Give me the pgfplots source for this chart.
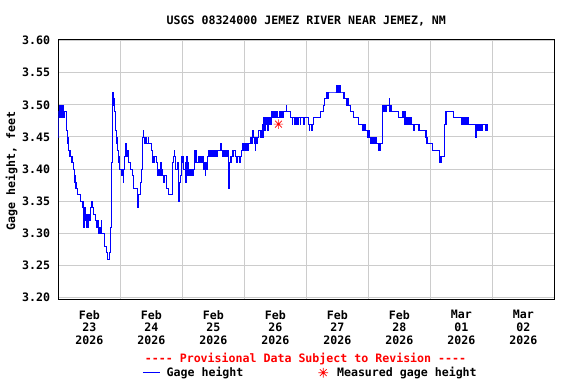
\documentclass[border=0pt]{standalone}
\usepackage{fontspec}
\setmainfont{DejaVu Sans Mono}
\usepackage{pgfplots}
\pgfplotsset{compat=1.18}
\usepackage{pgfplotstable}
\definecolor{gridgray}{RGB}{204,204,204}
\pgfdeclareplotmark{ast8}{%
  \pgfpathmoveto{\pgfqpoint{-\pgfplotmarksize}{0pt}}\pgfpathlineto{\pgfqpoint{\pgfplotmarksize}{0pt}}%
  \pgfpathmoveto{\pgfqpoint{0pt}{-\pgfplotmarksize}}\pgfpathlineto{\pgfqpoint{0pt}{\pgfplotmarksize}}%
  \pgfpathmoveto{\pgfqpoint{-0.707\pgfplotmarksize}{-0.707\pgfplotmarksize}}\pgfpathlineto{\pgfqpoint{0.707\pgfplotmarksize}{0.707\pgfplotmarksize}}%
  \pgfpathmoveto{\pgfqpoint{-0.707\pgfplotmarksize}{0.707\pgfplotmarksize}}\pgfpathlineto{\pgfqpoint{0.707\pgfplotmarksize}{-0.707\pgfplotmarksize}}%
  \pgfusepathqstroke}
\pgfplotstableread{
d v
-0.495 3.45
-0.492 3.49
-0.485 3.49
-0.480 3.50
-0.475 3.48
-0.468 3.49
-0.460 3.50
-0.452 3.49
-0.445 3.48
-0.438 3.49
-0.430 3.50
-0.422 3.48
-0.415 3.49
-0.405 3.48
-0.395 3.49
-0.385 3.49
-0.378 3.48
-0.370 3.48
-0.365 3.46
-0.360 3.45
-0.352 3.44
-0.345 3.45
-0.338 3.44
-0.330 3.43
-0.322 3.43
-0.315 3.42
-0.308 3.43
-0.300 3.42
-0.292 3.41
-0.285 3.42
-0.278 3.41
-0.270 3.41
-0.262 3.40
-0.255 3.40
-0.248 3.40
-0.242 3.39
-0.236 3.38
-0.230 3.39
-0.224 3.38
-0.218 3.37
-0.212 3.38
-0.205 3.37
-0.198 3.37
-0.190 3.36
-0.180 3.36
-0.170 3.36
-0.160 3.36
-0.150 3.35
-0.140 3.35
-0.130 3.35
-0.120 3.34
-0.110 3.35
-0.100 3.34
-0.092 3.31
-0.086 3.34
-0.080 3.33
-0.074 3.32
-0.068 3.34
-0.062 3.32
-0.056 3.33
-0.050 3.31
-0.044 3.32
-0.038 3.33
-0.030 3.31
-0.024 3.32
-0.018 3.31
-0.010 3.33
0.000 3.32
0.010 3.34
0.020 3.34
0.028 3.35
0.040 3.35
0.050 3.34
0.060 3.34
0.070 3.33
0.080 3.33
0.090 3.32
0.100 3.32
0.110 3.31
0.120 3.31
0.130 3.32
0.140 3.31
0.150 3.30
0.160 3.30
0.170 3.31
0.180 3.30
0.190 3.32
0.195 3.30
0.210 3.30
0.225 3.30
0.240 3.29
0.250 3.28
0.262 3.28
0.270 3.27
0.285 3.27
0.296 3.26
0.310 3.26
0.328 3.27
0.344 3.31
0.360 3.41
0.372 3.48
0.378 3.52
0.385 3.51
0.392 3.50
0.400 3.51
0.408 3.49
0.419 3.47
0.425 3.46
0.432 3.45
0.440 3.44
0.448 3.45
0.455 3.43
0.462 3.42
0.470 3.41
0.480 3.42
0.490 3.40
0.500 3.40
0.510 3.39
0.520 3.40
0.530 3.39
0.543 3.38
0.555 3.40
0.565 3.42
0.575 3.43
0.582 3.44
0.590 3.43
0.598 3.44
0.605 3.42
0.615 3.43
0.625 3.42
0.635 3.41
0.645 3.41
0.655 3.40
0.665 3.40
0.675 3.40
0.690 3.39
0.704 3.38
0.715 3.37
0.730 3.37
0.742 3.37
0.760 3.37
0.775 3.36
0.780 3.34
0.786 3.35
0.796 3.36
0.810 3.36
0.823 3.38
0.835 3.39
0.845 3.40
0.849 3.44
0.862 3.45
0.870 3.46
0.878 3.45
0.885 3.44
0.892 3.45
0.900 3.44
0.910 3.45
0.920 3.44
0.935 3.44
0.950 3.45
0.960 3.44
0.975 3.44
0.990 3.44
1.000 3.43
1.011 3.42
1.020 3.41
1.030 3.42
1.040 3.41
1.050 3.42
1.065 3.42
1.080 3.41
1.090 3.40
1.100 3.39
1.110 3.40
1.118 3.40
1.130 3.39
1.140 3.40
1.150 3.41
1.160 3.39
1.170 3.40
1.180 3.39
1.190 3.39
1.200 3.38
1.210 3.39
1.220 3.39
1.235 3.38
1.250 3.37
1.265 3.37
1.280 3.36
1.300 3.36
1.320 3.36
1.340 3.37
1.344 3.41
1.355 3.42
1.365 3.43
1.375 3.42
1.387 3.41
1.395 3.40
1.405 3.40
1.419 3.41
1.430 3.39
1.438 3.40
1.441 3.35
1.448 3.37
1.458 3.38
1.468 3.39
1.480 3.41
1.490 3.42
1.500 3.41
1.510 3.42
1.520 3.40
1.530 3.40
1.545 3.41
1.552 3.38
1.560 3.40
1.570 3.42
1.578 3.39
1.585 3.41
1.595 3.40
1.605 3.39
1.620 3.40
1.635 3.39
1.650 3.40
1.665 3.39
1.680 3.40
1.694 3.42
1.702 3.43
1.710 3.41
1.718 3.43
1.726 3.41
1.740 3.41
1.755 3.42
1.765 3.41
1.775 3.42
1.785 3.41
1.795 3.42
1.810 3.41
1.825 3.42
1.835 3.41
1.844 3.40
1.855 3.41
1.865 3.39
1.875 3.41
1.890 3.40
1.900 3.41
1.912 3.42
1.925 3.43
1.935 3.42
1.945 3.43
1.960 3.43
1.970 3.42
1.985 3.43
1.995 3.42
2.010 3.43
2.025 3.42
2.040 3.43
2.055 3.42
2.070 3.43
2.090 3.43
2.105 3.43
2.120 3.44
2.135 3.43
2.150 3.42
2.160 3.43
2.175 3.42
2.190 3.43
2.205 3.42
2.220 3.43
2.235 3.41
2.245 3.37
2.252 3.40
2.262 3.41
2.272 3.42
2.285 3.41
2.295 3.42
2.305 3.43
2.318 3.42
2.330 3.43
2.345 3.43
2.358 3.42
2.370 3.41
2.385 3.42
2.400 3.42
2.415 3.41
2.430 3.42
2.445 3.42
2.460 3.43
2.475 3.44
2.490 3.43
2.505 3.44
2.520 3.43
2.535 3.44
2.550 3.43
2.565 3.44
2.580 3.44
2.595 3.45
2.610 3.44
2.625 3.45
2.635 3.46
2.645 3.45
2.655 3.44
2.665 3.45
2.675 3.43
2.685 3.45
2.700 3.44
2.715 3.45
2.730 3.46
2.745 3.46
2.760 3.45
2.770 3.46
2.785 3.47
2.795 3.45
2.805 3.47
2.815 3.48
2.825 3.46
2.835 3.48
2.848 3.47
2.860 3.48
2.872 3.46
2.885 3.48
2.898 3.47
2.910 3.48
2.920 3.47
2.935 3.49
2.948 3.48
2.960 3.49
2.975 3.48
2.990 3.49
3.005 3.48
3.020 3.49
3.035 3.48
3.050 3.48
3.065 3.49
3.080 3.48
3.095 3.49
3.110 3.48
3.125 3.49
3.140 3.49
3.165 3.49
3.172 3.50
3.185 3.49
3.210 3.49
3.242 3.48
3.260 3.48
3.270 3.47
3.280 3.48
3.300 3.48
3.310 3.47
3.320 3.48
3.335 3.47
3.345 3.48
3.360 3.47
3.370 3.48
3.385 3.48
3.400 3.47
3.410 3.48
3.430 3.48
3.450 3.47
3.465 3.48
3.490 3.48
3.510 3.48
3.530 3.47
3.545 3.46
3.555 3.47
3.570 3.47
3.585 3.46
3.600 3.47
3.620 3.48
3.660 3.48
3.700 3.48
3.726 3.49
3.760 3.49
3.775 3.50
3.795 3.51
3.815 3.51
3.830 3.52
3.845 3.51
3.860 3.52
3.880 3.52
3.910 3.52
3.940 3.52
3.965 3.52
3.985 3.53
3.995 3.52
4.010 3.53
4.025 3.52
4.040 3.53
4.055 3.52
4.075 3.52
4.090 3.51
4.105 3.52
4.115 3.51
4.130 3.51
4.150 3.50
4.165 3.51
4.180 3.50
4.195 3.50
4.210 3.49
4.240 3.49
4.263 3.48
4.300 3.48
4.330 3.48
4.344 3.47
4.370 3.47
4.395 3.47
4.405 3.46
4.415 3.47
4.425 3.46
4.440 3.47
4.455 3.46
4.470 3.46
4.485 3.45
4.495 3.46
4.505 3.45
4.515 3.46
4.525 3.45
4.540 3.44
4.550 3.45
4.565 3.44
4.580 3.45
4.595 3.44
4.610 3.45
4.625 3.44
4.640 3.44
4.655 3.43
4.665 3.44
4.675 3.43
4.690 3.44
4.705 3.44
4.715 3.44
4.720 3.48
4.730 3.50
4.740 3.49
4.750 3.50
4.760 3.49
4.770 3.50
4.780 3.49
4.795 3.50
4.815 3.50
4.832 3.51
4.840 3.49
4.855 3.50
4.870 3.49
4.890 3.49
4.930 3.49
4.960 3.49
4.989 3.48
5.010 3.48
5.040 3.48
5.050 3.49
5.060 3.48
5.070 3.49
5.080 3.47
5.090 3.49
5.100 3.48
5.110 3.47
5.120 3.48
5.130 3.47
5.145 3.48
5.160 3.47
5.175 3.48
5.190 3.47
5.204 3.47
5.220 3.47
5.232 3.46
5.245 3.47
5.270 3.47
5.290 3.47
5.300 3.46
5.312 3.47
5.325 3.46
5.345 3.46
5.380 3.46
5.410 3.46
5.420 3.45
5.430 3.46
5.440 3.44
5.450 3.45
5.460 3.44
5.475 3.44
5.500 3.44
5.520 3.44
5.530 3.43
5.560 3.43
5.600 3.43
5.630 3.43
5.640 3.42
5.650 3.41
5.656 3.42
5.672 3.42
5.678 3.41
5.685 3.42
5.720 3.42
5.726 3.47
5.735 3.49
5.745 3.48
5.750 3.49
5.760 3.47
5.765 3.49
5.780 3.49
5.820 3.49
5.860 3.49
5.875 3.48
5.890 3.48
5.930 3.48
5.984 3.48
5.995 3.47
6.011 3.47
6.020 3.48
6.030 3.47
6.045 3.48
6.060 3.47
6.075 3.48
6.090 3.47
6.105 3.48
6.120 3.47
6.145 3.47
6.180 3.47
6.225 3.47
6.231 3.45
6.238 3.46
6.248 3.47
6.258 3.46
6.268 3.47
6.278 3.46
6.290 3.47
6.305 3.46
6.318 3.47
6.330 3.46
6.345 3.47
6.360 3.47
6.380 3.47
6.395 3.46
6.405 3.47
6.414 3.46
}\gage
\begin{document}
\fontsize{11.6bp}{12.6bp}\selectfont\bfseries
\begin{tikzpicture}
\useasboundingbox (0,0) rectangle (576bp,384bp);
\begin{axis}[
  at={(58.3bp,84.7bp)}, anchor=south west,
  scale only axis, width=496bp, height=260bp,
  xmin=-0.5, xmax=7.5, ymin=3.1975, ymax=3.602,
  xtick={0,1,2,3,4,5,6,7},
  xticklabels={{Feb\\23\\2026},{Feb\\24\\2026},{Feb\\25\\2026},{Feb\\26\\2026},{Feb\\27\\2026},{Feb\\28\\2026},{Mar\\01\\2026},{Mar\\02\\2026}},
  minor xtick={0.5,1.5,2.5,3.5,4.5,5.5,6.5},
  ytick={3.20,3.25,3.30,3.35,3.40,3.45,3.50,3.55,3.60},
  yticklabels={3.20,3.25,3.30,3.35,3.40,3.45,3.50,3.55,3.60},
  xminorgrids=true, xmajorgrids=false, ymajorgrids=true,
  grid style={gridgray, line width=1bp},
  minor grid style={gridgray, line width=1bp},
  major tick length=0pt, minor tick length=0pt,
  axis line style={black, line width=1bp},
  xticklabel style={align=center, inner sep=0pt, yshift=-11bp},
  yticklabel style={inner sep=0pt, xshift=-8bp},
  /pgf/number format/assume math mode=true,
  legend columns=2,
  legend style={at={(0.1694,-0.2823)}, anchor=west, draw=none, fill=none, inner sep=0pt,
    nodes={inner sep=0pt},
    /tikz/column 1/.style={column sep=6.4bp},
    /tikz/column 2/.style={column sep=75bp},
    /tikz/column 3/.style={column sep=9bp}},
]
\addplot[blue, line width=0.7bp, const plot, mark=none] table[x=d, y=v] {\gage};
\addlegendentry{Gage height}
\addplot[red, line width=0.7bp, only marks, mark=ast8, mark size=4.8bp,
  legend image code/.code={\draw[red, line width=0.7bp] plot[mark=ast8, mark size=4.8bp] coordinates {(0bp,0bp)};}]
  coordinates {(3.05,3.47)};
\addlegendentry{Measured gage height}
\end{axis}
\node[anchor=base] at (306.3bp,359.7bp) {USGS 08324000 JEMEZ RIVER NEAR JEMEZ, NM};
\node[anchor=center, rotate=90] at (11.5bp,213bp) {Gage height, feet};
\node[anchor=base, text=red] at (305.5bp,21.5bp) {{-}{-}{-}{-} Provisional Data Subject to Revision {-}{-}{-}{-}};
\end{tikzpicture}
\end{document}
